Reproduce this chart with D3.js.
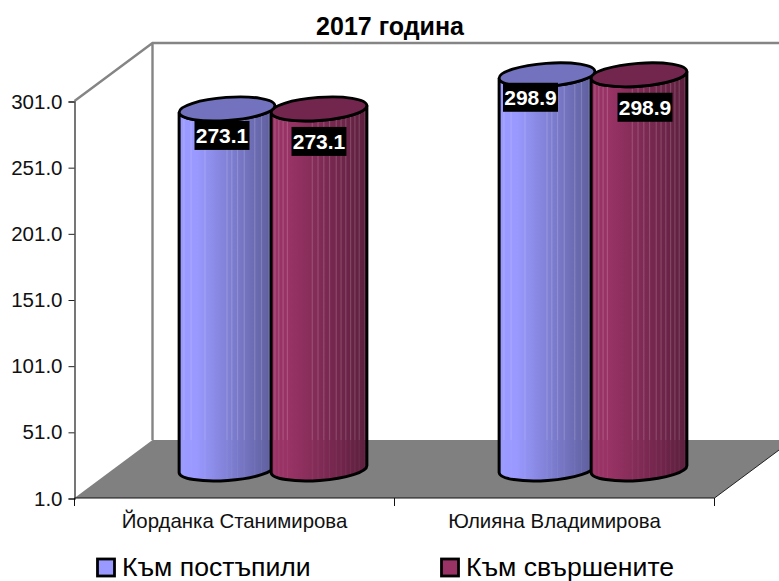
<!DOCTYPE html>
<html><head><meta charset="utf-8">
<script src="https://cdn.jsdelivr.net/npm/d3@7"></script>
<style>html,body{margin:0;padding:0;background:#fff}svg{display:block}text{font-family:"Liberation Sans",Arial,sans-serif}</style>
</head><body><div id="c"></div>
<script>
const title = "2017 година";
const categories = ["Йорданка Станимирова", "Юлияна Владимирова"];
const seriesNames = ["Към постъпили", "Към свършените"];
const postapili = [273.1, 298.9];
const svarsheni = [273.1, 298.9];
const yTicks = [1, 51, 101, 151, 201, 251, 301];
const stripesA = [.05,.125,.27,.5,.55,.61,.68,.79,.86,.94];
const stripesB = [.04,.08,.125,.17,.43,.49,.55,.61,.68,.73,.78,.83,.875,.92,.98];
const labelNudge = [[[-5.5,26.5],[-17,22.5]],[[-0.5,32.5],[5.5,32.5]]];

const W=779,H=581, L=74.5,R=714.5,T=101,B=498, dx=78, dy=58;
const svg=d3.select("#c").append("svg").attr("width",W).attr("height",H);
const defs=svg.append("defs");
const y=d3.scaleLinear().domain([1,301]).range([B,T]);
const x=d3.scaleBand().domain(categories).range([L,R]);
const colors=[{l:"#9999ff",d:"#5c5c99",t:"#7272bf"},{l:"#993366",d:"#5c1f3d",t:"#72264d"}];
colors.forEach((c,i)=>{const g=defs.append("linearGradient").attr("id","g"+i);
  g.append("stop").attr("offset","0%").attr("stop-color",c.l);
  g.append("stop").attr("offset","18%").attr("stop-color",c.l);
  g.append("stop").attr("offset","100%").attr("stop-color",c.d);});

// walls & floor
svg.append("path").attr("d",`M${L},${B}L${L+dx},${B-dy}L${R+dx},${B-dy}L${R},${B}Z`).attr("fill","#808080");
svg.append("path").attr("d",`M${L},${T}L${L+dx},${T-dy}L${W+2},${T-dy}M${L+dx},${T-dy}L${L+dx},${B-dy}`)
  .attr("fill","none").attr("stroke","#858585").attr("stroke-width",2.4);
svg.append("path").attr("d",`M${R},${B}L${R+dx},${B-dy}`).attr("stroke","#222").attr("fill","none");

// axes
const ya=svg.append("g").attr("transform",`translate(${L},0.5)`).call(d3.axisLeft(y).tickValues(yTicks).tickSize(6).tickPadding(6).tickFormat(d3.format(".1f")));
ya.select(".domain").attr("stroke","#555").attr("stroke-width",1.6);
ya.selectAll("line").attr("stroke","#222");
ya.selectAll("text").attr("font-size",20.5).attr("fill","#111").attr("font-family",'"Liberation Sans"');
const xa=svg.append("g").attr("transform",`translate(0,${B})`).call(d3.axisBottom(x).tickSize(0).tickPadding(16));
xa.select(".domain").remove();
xa.selectAll("text").attr("font-size",20.4).attr("fill","#111").attr("font-family",'"Liberation Sans"');
const edges=[L,L+x.step(),L+2*x.step()];
svg.append("path").attr("d",`M${L},${B}H${R}`+edges.map(e=>`M${e},${B}v8`).join("")).attr("stroke","#111").attr("fill","none");

// cylinders
const rx=48, ry=11.5, rot=-4.2, sep=46;
const ca=Math.cos(rot*Math.PI/180)*rx, sa=Math.sin(rot*Math.PI/180)*rx;
const layer=svg.append("g"), tops=[];
categories.forEach((cat,ci)=>{
  [postapili,svarsheni].forEach((vals,si)=>{
    const cx=x(cat)+x.bandwidth()/2+dx/2+(si?sep:-sep)-0.5;
    const ty=y(vals[ci])-dy/2, by=y(1)-dy/2;
    const d=`M${cx-ca},${ty-sa}L${cx-ca},${by-sa}A${rx},${ry},${rot},0,0,${cx+ca},${by+sa}L${cx+ca},${ty+sa}A${rx},${ry},${rot},0,1,${cx-ca},${ty-sa}Z`;
    const id=`cp${ci}${si}`;
    defs.append("clipPath").attr("id",id).append("path").attr("d",d);
    layer.append("path").attr("d",d).attr("fill",`url(#g${si})`);
    const st=layer.append("g").attr("clip-path",`url(#${id})`);
    (si?stripesB:stripesA).forEach(f=>{
      const sx=cx-ca+f*2*ca;
      st.append("rect").attr("x",sx-.6).attr("width",1.2).attr("y",ty-15).attr("height",B-dy-ty+15).attr("fill","#fff").attr("opacity",.16);
      st.append("rect").attr("x",sx-.6).attr("width",1.2).attr("y",B-dy).attr("height",50).attr("fill","#fff").attr("opacity",.05);
    });
    layer.append("path").attr("d",d).attr("fill","none").attr("stroke","#000").attr("stroke-width",3);
    tops.push({cx,ty,si,ci,v:vals[ci]});
  });
});
tops.slice().sort((a,b)=>a.ci-b.ci||b.si-a.si).forEach(t=>{
  layer.append("ellipse").attr("rx",rx).attr("ry",ry).attr("transform",`translate(${t.cx},${t.ty}) rotate(${rot})`)
    .attr("fill",colors[t.si].t).attr("stroke","#000").attr("stroke-width",2.8);
});
// data labels
tops.forEach(t=>{
  const n=labelNudge[t.si][t.ci], lx=t.cx+n[0]+.5, ly=t.ty+n[1];
  svg.append("rect").attr("x",lx-27.5).attr("y",ly-14.5).attr("width",55).attr("height",29).attr("fill","#000");
  svg.append("text").attr("x",lx).attr("y",ly+7.5).attr("text-anchor","middle").attr("font-size",21).attr("font-weight","bold").attr("fill","#fff").text(d3.format(".1f")(t.v));
});
// title
svg.append("text").attr("x",390).attr("y",35).attr("text-anchor","middle").attr("font-size",25).attr("font-weight","bold").attr("fill","#000").text(title);
// legend
const legX=d3.scaleOrdinal().domain(seriesNames).range([97,441]);
seriesNames.forEach((s,i)=>{
  svg.append("rect").attr("x",legX(s)+.5).attr("y",559).attr("width",17).attr("height",17).attr("fill",colors[i].l).attr("stroke","#000").attr("stroke-width",2.8);
  svg.append("text").attr("x",legX(s)+25).attr("y",576).attr("font-size",26.6).attr("fill","#000").text(s);
});
</script></body></html>
